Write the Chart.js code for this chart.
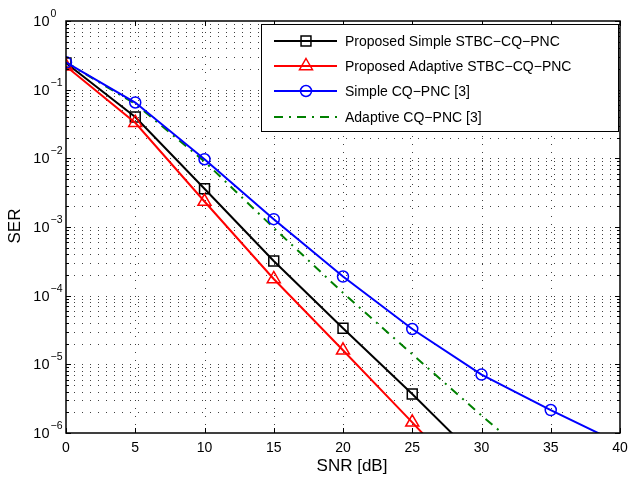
<!DOCTYPE html>
<html>
<head>
<meta charset="utf-8">
<script src="https://cdn.jsdelivr.net/npm/chart.js@4.4.1/dist/chart.umd.min.js"></script>
<style>
  html, body { margin: 0; padding: 0; background: #fff; }
  #wrap { width: 629px; height: 484px; }
</style>
</head>
<body>
<div id="wrap"><canvas id="serChart" width="629" height="484"></canvas></div>
<script>
// SER vs SNR curves
const snr = [0, 5, 10, 15, 20, 25, 30, 35, 40];
const simpleStbc = [0.245, 0.040, 3.6e-3, 3.2e-4, 3.35e-5, 3.7e-6, 3.7e-7];
const adaptiveStbc = [0.22, 0.033, 2.35e-3, 1.75e-4, 1.6e-5, 1.43e-6, 1.2e-7];
const simpleCq = [0.25, 0.065, 9.7e-3, 1.3e-3, 1.9e-4, 3.27e-5, 7.1e-6, 2.16e-6, 7e-7];
const adaptiveCq = [0.25, 0.062, 9.0e-3, 9.7e-4, 1.1e-4, 1.4e-5, 1.8e-6, 2.5e-7];

const snrTicks = [0, 5, 10, 15, 20, 25, 30, 35, 40];
const serExponents = [0, -1, -2, -3, -4, -5, -6];

const FONT = '"Liberation Sans", Arial, Helvetica, sans-serif';

function toPoints(values) {
  return values.map((v, i) => ({ x: snr[i], y: v }));
}

// decades plus the 2..9 minor lines in between
function logGridValues() {
  const out = [];
  serExponents.forEach(e => {
    if (e === 0) { out.push({ v: 1, major: true }); return; }
    for (let m = 1; m <= 9; m++) out.push({ v: m * Math.pow(10, e), major: m === 1 });
  });
  return out;
}

function drawMarker(ctx, style, x, y, r) {
  ctx.beginPath();
  if (style === 'rect') {
    const s = r * Math.SQRT1_2;
    ctx.rect(x - s, y - s, 2 * s, 2 * s);
  } else if (style === 'triangle') {
    ctx.moveTo(x, y - r);
    ctx.lineTo(x + r * 0.866, y + r * 0.5);
    ctx.lineTo(x - r * 0.866, y + r * 0.5);
    ctx.closePath();
  } else if (style === 'circle') {
    ctx.arc(x, y, r, 0, Math.PI * 2);
  }
  ctx.stroke();
}

const matlabAxes = {
  id: 'matlabAxes',
  beforeDatasetsDraw(chart) {
    const { ctx, chartArea: a, scales: { x, y } } = chart;
    ctx.save();
    ctx.strokeStyle = 'rgba(0,0,0,0.75)';
    ctx.lineWidth = 1;
    ctx.setLineDash([1, 7]);
    snrTicks.forEach(v => {
      if (v <= x.min || v >= x.max) return;
      const px = Math.round(x.getPixelForValue(v)) + 0.5;
      ctx.beginPath();
      ctx.moveTo(px, a.bottom);
      ctx.lineTo(px, a.top);
      ctx.stroke();
    });
    logGridValues().forEach(t => {
      if (t.v <= y.min || t.v >= y.max) return;
      const py = Math.round(y.getPixelForValue(t.v)) + 0.5;
      ctx.beginPath();
      ctx.moveTo(a.left, py);
      ctx.lineTo(a.right, py);
      ctx.stroke();
    });
    ctx.restore();
  },
  afterDatasetsDraw(chart) {
    const { ctx, chartArea: a, scales: { x, y } } = chart;
    ctx.save();
    ctx.setLineDash([]);
    ctx.strokeStyle = '#000';
    ctx.fillStyle = '#000';

    // axes box
    ctx.lineWidth = 1.5;
    ctx.strokeRect(a.left, a.top, a.right - a.left, a.bottom - a.top);

    // inward ticks
    ctx.lineWidth = 1;
    snrTicks.forEach(v => {
      const px = Math.round(x.getPixelForValue(v)) + 0.5;
      ctx.beginPath();
      ctx.moveTo(px, a.bottom); ctx.lineTo(px, a.bottom - 5);
      ctx.moveTo(px, a.top); ctx.lineTo(px, a.top + 5);
      ctx.stroke();
    });
    logGridValues().forEach(t => {
      const py = Math.round(y.getPixelForValue(t.v)) + 0.5;
      const len = t.major ? 5 : 3;
      ctx.beginPath();
      ctx.moveTo(a.left, py); ctx.lineTo(a.left + len, py);
      ctx.moveTo(a.right, py); ctx.lineTo(a.right - len, py);
      ctx.stroke();
    });

    // x tick labels
    ctx.font = '14px ' + FONT;
    ctx.textAlign = 'center';
    ctx.textBaseline = 'middle';
    snrTicks.forEach(v => {
      ctx.fillText(String(v), x.getPixelForValue(v), a.bottom + 15);
    });

    // y tick labels, 10 with superscript exponent
    serExponents.forEach(e => {
      const py = y.getPixelForValue(Math.pow(10, e));
      ctx.font = '14.5px ' + FONT;
      ctx.textAlign = 'right';
      ctx.fillText('10', a.left - 16.5, py + 1);
      ctx.font = '10.5px ' + FONT;
      ctx.textAlign = 'left';
      ctx.fillText(e === 0 ? '0' : '\u2212' + (-e), a.left - 15.5, py - 7);
    });

    // axis titles
    ctx.font = '17px ' + FONT;
    ctx.textAlign = 'center';
    ctx.fillText('SNR [dB]', 352, a.bottom + 33);
    ctx.save();
    ctx.translate(15, 226);
    ctx.rotate(-Math.PI / 2);
    ctx.fillText('SER', 0, 0);
    ctx.restore();

    // legend box
    const lx = 261.5, ly = 24.5, lw = 357, lh = 107;
    ctx.fillStyle = '#fff';
    ctx.fillRect(lx, ly, lw, lh);
    ctx.lineWidth = 1;
    ctx.strokeStyle = '#000';
    ctx.strokeRect(lx, ly, lw, lh);
    const rows = [41, 66, 91, 117];
    chart.data.datasets.forEach((ds, i) => {
      const ry = rows[i];
      ctx.strokeStyle = ds.borderColor;
      ctx.lineWidth = ds.borderWidth;
      ctx.setLineDash(ds.borderDash || []);
      ctx.beginPath();
      ctx.moveTo(274, ry);
      ctx.lineTo(337, ry);
      ctx.stroke();
      ctx.setLineDash([]);
      if (ds.pointRadius > 0) {
        ctx.lineWidth = ds.pointBorderWidth;
        drawMarker(ctx, ds.pointStyle, 306, ry, ds.pointRadius);
      }
      ctx.fillStyle = '#000';
      ctx.font = '14px ' + FONT;
      ctx.textAlign = 'left';
      ctx.textBaseline = 'middle';
      ctx.fillText(ds.label, 345, ry + 1);
    });
    ctx.restore();
  }
};

const lineDefaults = {
  borderWidth: 2,
  pointBorderWidth: 1.5,
  pointBackgroundColor: 'rgba(0,0,0,0)',
  tension: 0,
  fill: false
};

new Chart(document.getElementById('serChart').getContext('2d'), {
  type: 'line',
  data: {
    datasets: [
      Object.assign({}, lineDefaults, {
        label: 'Proposed Simple STBC\u2212CQ\u2212PNC',
        data: toPoints(simpleStbc),
        borderColor: '#000000',
        pointBorderColor: '#000000',
        pointStyle: 'rect',
        pointRadius: 7,
        order: 3
      }),
      Object.assign({}, lineDefaults, {
        label: 'Proposed Adaptive STBC\u2212CQ\u2212PNC',
        data: toPoints(adaptiveStbc),
        borderColor: '#ff0000',
        pointBorderColor: '#ff0000',
        pointStyle: 'triangle',
        pointRadius: 7.5,
        order: 2
      }),
      Object.assign({}, lineDefaults, {
        label: 'Simple CQ\u2212PNC [3]',
        data: toPoints(simpleCq),
        borderColor: '#0000ff',
        pointBorderColor: '#0000ff',
        pointStyle: 'circle',
        pointRadius: 5.5,
        order: 1
      }),
      Object.assign({}, lineDefaults, {
        label: 'Adaptive CQ\u2212PNC [3]',
        data: toPoints(adaptiveCq),
        borderColor: '#008000',
        borderDash: [9, 6, 2, 6],
        pointRadius: 0,
        order: 4
      })
    ]
  },
  options: {
    responsive: false,
    animation: false,
    layout: { padding: { left: 66, right: 7, top: 21, bottom: 51 } },
    plugins: {
      legend: { display: false },
      tooltip: { enabled: false }
    },
    scales: {
      x: { type: 'linear', min: 0, max: 40, display: false },
      y: { type: 'logarithmic', min: 1e-6, max: 1, display: false }
    }
  },
  plugins: [matlabAxes]
});
</script>
</body>
</html>
